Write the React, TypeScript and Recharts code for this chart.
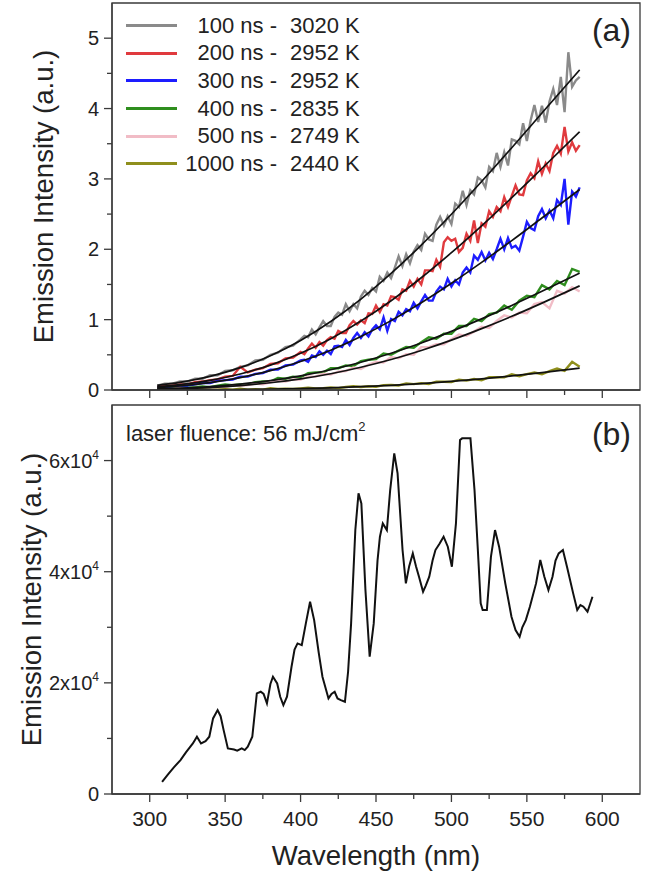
import React from "react";
import { LineChart, Line, XAxis, YAxis, ReferenceArea, Legend } from "recharts";

const FONT = '"Liberation Sans", Arial, Helvetica, sans-serif';
const INK = "#222";
const AXIS = "#3a3a3a";

// ---- panel (a): emission spectra at several delays ----
// fine grid for the three strongest (noisiest) traces
const wavelengthsFine = [
  305, 310, 315, 320, 325, 330, 335, 340, 345, 350,
  355, 360, 365, 370, 375, 380, 385, 390, 395, 400,
  402.5, 405, 407.5, 410, 412.5, 415, 417.5, 420, 422.5, 425,
  427.5, 430, 432.5, 435, 437.5, 440, 442.5, 445, 447.5, 450,
  452.5, 455, 457.5, 460, 462.5, 465, 467.5, 470, 472.5, 475,
  477.5, 480, 482.5, 485, 487.5, 490, 492.5, 495, 497.5, 500,
  502.5, 505, 507.5, 510, 512.5, 515, 517.5, 520, 522.5, 525,
  527.5, 530, 532.5, 535, 537.5, 540, 542.5, 545, 547.5, 550,
  552.5, 555, 557.5, 560, 562.5, 565, 567.5, 570, 572.5, 575,
  577.5, 580, 582.5, 585,
];
const int100 = [
  0.06, 0.09, 0.09, 0.12, 0.12, 0.16, 0.16, 0.21, 0.21, 0.27,
  0.28, 0.33, 0.35, 0.42, 0.43, 0.50, 0.53, 0.61, 0.63, 0.72,
  0.77, 0.75, 0.86, 0.79, 0.89, 0.98, 0.91, 0.91, 1.04, 1.10,
  1.07, 1.22, 1.12, 1.22, 1.16, 1.33, 1.41, 1.35, 1.45, 1.40,
  1.61, 1.55, 1.67, 1.59, 1.74, 1.90, 1.76, 1.93, 1.80, 1.97,
  2.06, 1.99, 2.22, 2.14, 2.12, 2.35, 2.46, 2.34, 2.47, 2.36,
  2.65, 2.60, 2.83, 2.63, 2.84, 2.78, 3.02, 2.98, 2.88, 3.17,
  3.11, 3.37, 3.17, 3.38, 3.19, 3.56, 3.54, 3.49, 3.79, 3.54,
  3.83, 4.05, 3.81, 4.04, 3.80, 4.10, 4.28, 4.05, 4.45, 3.95,
  4.80, 4.31, 4.40, 4.45,
];
const int200 = [
  0.04, 0.06, 0.06, 0.08, 0.08, 0.11, 0.12, 0.14, 0.15, 0.19,
  0.20, 0.33, 0.25, 0.29, 0.31, 0.37, 0.38, 0.45, 0.46, 0.54,
  0.51, 0.59, 0.66, 0.60, 0.68, 0.63, 0.71, 0.75, 0.73, 0.84,
  0.81, 0.81, 0.92, 0.98, 0.93, 0.99, 0.95, 1.09, 1.08, 1.20,
  1.11, 1.22, 1.20, 1.33, 1.32, 1.28, 1.43, 1.41, 1.55, 1.47,
  1.58, 1.50, 1.70, 1.70, 1.69, 1.85, 1.75, 2.10, 2.17, 2.12,
  2.15, 1.96, 2.02, 2.22, 2.12, 2.41, 2.09, 2.37, 2.32, 2.54,
  2.46, 2.60, 2.54, 2.74, 2.60, 2.76, 2.91, 2.78, 2.77, 2.98,
  3.08, 3.01, 3.25, 3.07, 3.22, 3.11, 3.37, 3.47, 3.36, 3.74,
  3.39, 3.52, 3.40, 3.48,
];
const int300 = [
  0.03, 0.04, 0.05, 0.06, 0.06, 0.08, 0.10, 0.10, 0.13, 0.14,
  0.15, 0.19, 0.19, 0.23, 0.24, 0.29, 0.29, 0.35, 0.36, 0.42,
  0.43, 0.40, 0.49, 0.47, 0.55, 0.50, 0.56, 0.51, 0.62, 0.63,
  0.61, 0.71, 0.64, 0.74, 0.81, 0.74, 0.82, 0.76, 0.86, 0.92,
  0.86, 1.03, 0.84, 1.01, 0.98, 1.11, 1.06, 1.15, 1.12, 1.24,
  1.16, 1.26, 1.35, 1.27, 1.27, 1.40, 1.47, 1.43, 1.58, 1.47,
  1.56, 1.50, 1.67, 1.74, 1.67, 1.91, 1.85, 1.96, 1.84, 1.95,
  1.86, 2.00, 2.15, 2.00, 2.16, 2.02, 2.05, 1.98, 2.18, 2.39,
  2.30, 2.27, 2.47, 2.57, 2.44, 2.55, 2.44, 2.70, 2.63, 3.00,
  2.35, 2.82, 2.75, 2.88,
];

// coarse grid for the weaker traces
const wavelengthsCoarse = [
  305, 310, 315, 320, 325, 330, 335, 340, 345, 350,
  355, 360, 365, 370, 375, 380, 385, 390, 395, 400,
  405, 410, 415, 420, 425, 430, 435, 440, 445, 450,
  455, 460, 465, 470, 475, 480, 485, 490, 495, 500,
  505, 510, 515, 520, 525, 530, 535, 540, 545, 550,
  555, 560, 565, 570, 575, 580, 585,
];
const int400 = [
  0.02, 0.01, 0.02, 0.03, 0.03, 0.04, 0.05, 0.04, 0.06, 0.08,
  0.07, 0.08, 0.08, 0.11, 0.12, 0.12, 0.17, 0.16, 0.19, 0.18,
  0.24, 0.25, 0.25, 0.31, 0.31, 0.35, 0.34, 0.41, 0.43, 0.44,
  0.52, 0.50, 0.56, 0.61, 0.60, 0.68, 0.75, 0.73, 0.80, 0.80,
  0.91, 0.91, 1.01, 0.98, 1.08, 1.10, 1.20, 1.14, 1.27, 1.34,
  1.32, 1.49, 1.43, 1.55, 1.49, 1.72, 1.68,
];
const int500 = [
  0.02, 0.01, 0.01, 0.03, 0.02, 0.03, 0.02, 0.04, 0.04, 0.04,
  0.07, 0.06, 0.07, 0.09, 0.08, 0.11, 0.13, 0.12, 0.15, 0.15,
  0.19, 0.19, 0.23, 0.22, 0.26, 0.27, 0.32, 0.30, 0.36, 0.40,
  0.39, 0.47, 0.45, 0.51, 0.50, 0.61, 0.61, 0.65, 0.65, 0.72,
  0.79, 0.77, 0.83, 0.90, 0.88, 0.98, 1.06, 1.03, 1.10, 1.09,
  1.22, 1.25, 1.16, 1.41, 1.37, 1.46, 1.40,
];
const int1000 = [
  0.006, 0.0, 0.009, 0.0, 0.005, 0.002, 0.009, 0.0, 0.006, 0.01,
  0.003, 0.017, 0.006, 0.013, 0.004, 0.024, 0.016, 0.019, 0.014, 0.022,
  0.031, 0.021, 0.027, 0.037, 0.027, 0.043, 0.053, 0.043, 0.053, 0.047,
  0.069, 0.07, 0.065, 0.093, 0.083, 0.098, 0.086, 0.119, 0.117, 0.114,
  0.147, 0.134, 0.155, 0.137, 0.181, 0.183, 0.18, 0.222, 0.196, 0.226,
  0.248, 0.224, 0.268, 0.305, 0.272, 0.40, 0.33,
];

// black fitted curves
const fitWl = [305, 320, 340, 360, 380, 400, 420, 440, 460, 480, 500, 520, 540, 560, 585];
const fit100 = [0.067, 0.109, 0.194, 0.318, 0.486, 0.704, 0.973, 1.292, 1.656, 2.06, 2.498, 2.963, 3.443, 3.936, 4.55];
const fit200 = [0.045, 0.076, 0.137, 0.228, 0.354, 0.521, 0.729, 0.98, 1.269, 1.595, 1.952, 2.334, 2.734, 3.148, 3.67];
const fit300 = [0.035, 0.059, 0.106, 0.177, 0.275, 0.405, 0.566, 0.761, 0.986, 1.239, 1.516, 1.813, 2.123, 2.445, 2.85];
const fit400 = [0.015, 0.026, 0.048, 0.083, 0.133, 0.201, 0.288, 0.395, 0.523, 0.669, 0.833, 1.011, 1.202, 1.402, 1.66];
const fit500 = [0.01, 0.018, 0.035, 0.063, 0.103, 0.158, 0.231, 0.323, 0.433, 0.562, 0.709, 0.872, 1.047, 1.235, 1.48];
const fit1000 = [0.001, 0.002, 0.003, 0.007, 0.012, 0.02, 0.031, 0.047, 0.067, 0.092, 0.123, 0.158, 0.2, 0.246, 0.31];

const delays = ["100 ns", "200 ns", "300 ns", "400 ns", "500 ns", "1000 ns"];
const temps = ["3020 K", "2952 K", "2952 K", "2835 K", "2749 K", "2440 K"];
const colors = ["#8a8a8a", "#e03a3e", "#1d1dff", "#2f8e1e", "#f1bcc6", "#8f8f1c"];
const measured = [int100, int200, int300, int400, int500, int1000];
const grids = [wavelengthsFine, wavelengthsFine, wavelengthsFine, wavelengthsCoarse, wavelengthsCoarse, wavelengthsCoarse];
const fits = [fit100, fit200, fit300, fit400, fit500, fit1000];

const yTicksA = [0, 0.5, 1, 1.5, 2, 2.5, 3, 3.5, 4, 4.5, 5];

// ---- panel (b): spectrum at 56 mJ/cm2 ----
const wavelengthsB = [
  308.2, 312, 316, 320.4, 324, 328.6, 331.3, 334, 337, 339.5,
  342, 345, 347, 349, 351.8, 355.9, 358, 361, 363, 365,
  368, 371, 373.6, 375.5, 377.7, 380, 381.7, 384.5, 386.5, 388.6,
  391, 394, 396, 398, 400.8, 403.5, 406.3, 409, 412, 414.5,
  418.5, 420.5, 422.6, 424.5, 426.7, 429.4, 431.5, 433.5, 436.3, 438.4,
  440.3, 443, 445.8, 448.5, 451, 452.6, 454.5, 457.2, 459.4, 462.1,
  464.3, 467.6, 469.8, 472, 474.4, 476.5, 478.5, 481.2, 483, 485.3,
  487.5, 489.4, 492, 494.8, 497.6, 500.3, 503, 505.7, 507.1, 512.6,
  515.3, 517.5, 519.4, 520.7, 523.5, 526.2, 528.9, 531.6, 535.7, 539.8,
  542.5, 545.2, 547, 549.3, 552, 556.1, 558.9, 561.6, 564.3, 567,
  569, 571.1, 573.9, 576.6, 580.7, 583.4, 585.5, 587.5, 590.2, 593.5,
];
const intensityB = [
  2200, 3500, 4800, 6100, 7500, 9100, 10300, 9100, 9500, 10300,
  13600, 15100, 14000, 11500, 8200, 8000, 7800, 8200, 7900, 8500,
  10300, 18100, 18400, 18000, 16300, 19800, 21100, 19900, 17500, 16000,
  17500, 22900, 26000, 27100, 26800, 30700, 34600, 31300, 25500, 21100,
  17200, 18000, 18400, 17200, 16900, 16600, 22000, 30700, 47500, 54100,
  52300, 36700, 24700, 30700, 42000, 46300, 48700, 47500, 54700, 61300,
  57700, 43900, 37900, 41000, 43300, 41000, 39100, 36400, 37500, 39100,
  42000, 43900, 45000, 46300, 44500, 40900, 48700, 63700, 64000, 64000,
  54700, 44000, 34300, 33100, 33100, 42700, 47500, 44500, 37900, 31900,
  29500, 28300, 30000, 31300, 33700, 37900, 42100, 39100, 36700, 39100,
  42000, 43300, 43900, 40900, 36100, 33100, 34000, 33700, 32800, 35500,
];

const yTicksB = [0, 10000, 20000, 30000, 40000, 50000, 60000];
const xTicks = [275, 300, 325, 350, 375, 400, 425, 450, 475, 500, 525, 550, 575, 600, 625];

const measuredRows = measured.map((arr, k) => grids[k].map((w, i) => ({ w, v: arr[i] })));
const fitRows = fits.map((arr) => fitWl.map((w, i) => ({ w, v: arr[i] })));
const rowsB = wavelengthsB.map((w, i) => ({ w, v: intensityB[i] }));

function XTick(props: any) {
  const { x, y, payload, showLabel } = props;
  if (payload.value === 275 || payload.value === 625) return null;
  const major = payload.value % 50 === 0;
  const len = major ? 8 : 5;
  return (
    <g>
      <line x1={x} y1={y} x2={x} y2={y + len} stroke={AXIS} strokeWidth={1.3} />
      {showLabel && major && (
        <text x={x} y={y + 17} dy="0.71em" textAnchor="middle" fontSize={21} fontFamily={FONT} fill={INK}>
          {payload.value}
        </text>
      )}
    </g>
  );
}

function YTick(props: any) {
  const { x, y, payload, step, sci } = props;
  const v = payload.value;
  const major = Math.abs(v / step - Math.round(v / step)) < 1e-6;
  const len = major ? 8 : 5;
  return (
    <g>
      <line x1={x - len} y1={y} x2={x} y2={y} stroke={AXIS} strokeWidth={1.3} />
      {major && (
        <text x={x - 13} y={y} dy="0.36em" textAnchor="end" fontSize={20} fontFamily={FONT} fill={INK}>
          {sci && v !== 0 ? (
            <>
              <tspan>{v / 10000}x10</tspan>
              <tspan dy="-9" fontSize={12}>4</tspan>
            </>
          ) : (
            v
          )}
        </text>
      )}
    </g>
  );
}

const makeYTitle = (x: number) => (props: any) => {
  const vb = props.viewBox || {};
  const cy = (vb.y || 0) + (vb.height || 0) / 2;
  return (
    <text x={x} y={cy} transform={`rotate(-90 ${x} ${cy})`} textAnchor="middle" fontSize={27.5} fontFamily={FONT} fill={INK}>
      Emission Intensity (a.u.)
    </text>
  );
};

const xTitle = (props: any) => {
  const vb = props.viewBox || {};
  const cx = (vb.x || 0) + (vb.width || 0) / 2;
  return (
    <text x={cx} y={(vb.y || 0) + 71} textAnchor="middle" fontSize={27.5} fontFamily={FONT} fill={INK}>
      Wavelength (nm)
    </text>
  );
};

const tagA = (props: any) => {
  const vb = props.viewBox || {};
  return (
    <text x={vb.x + vb.width - 9} y={vb.y + 38} textAnchor="end" fontSize={32} fontFamily={FONT} fill={INK}>
      (a)
    </text>
  );
};

const tagB = (props: any) => {
  const vb = props.viewBox || {};
  return (
    <g>
      <text x={vb.x + vb.width - 9} y={vb.y + 40} textAnchor="end" fontSize={32} fontFamily={FONT} fill={INK}>
        (b)
      </text>
      <text x={vb.x + 14} y={vb.y + 36} fontSize={22} fontFamily={FONT} fill={INK}>
        <tspan>laser fluence: 56 mJ/cm</tspan>
        <tspan dy="-10" fontSize={13}>2</tspan>
      </text>
    </g>
  );
};

const renderLegend = () => (
  <div style={{ fontFamily: FONT, fontSize: 22, color: INK }}>
    {delays.map((d, k) => (
      <div key={d} style={{ display: "flex", alignItems: "center", height: 27.6 }}>
        <div style={{ width: 51, height: 3, background: colors[k] }} />
        <span style={{ width: 100, textAlign: "right", whiteSpace: "pre" }}>{d} -</span>
        <span style={{ marginLeft: 13, whiteSpace: "pre" }}>{temps[k]}</span>
      </div>
    ))}
  </div>
);

const axisLine = { stroke: AXIS, strokeWidth: 1.3 };

export default function App() {
  return (
    <div style={{ position: "absolute", left: 0, top: 0, width: 645, height: 874, background: "#fff" }}>
      <LineChart width={645} height={402} margin={{ top: 3, right: 5, bottom: 0, left: 0 }}>
        <XAxis
          dataKey="w"
          type="number"
          domain={[275, 625]}
          ticks={xTicks}
          interval={0}
          height={12}
          tickSize={0}
          tickMargin={0}
          tickLine={false}
          axisLine={axisLine}
          tick={<XTick showLabel={false} />}
          allowDataOverflow
        />
        <YAxis
          type="number"
          domain={[0, 5.5]}
          ticks={yTicksA}
          interval={0}
          width={112}
          tickSize={0}
          tickMargin={0}
          tickLine={false}
          axisLine={axisLine}
          tick={<YTick step={1} />}
          label={makeYTitle(53)}
          allowDataOverflow
        />
        <ReferenceArea x1={275} x2={625} y1={0} y2={5.5} fill="none" fillOpacity={0} stroke={AXIS} strokeWidth={1.3} label={tagA} />
        {measured.map((_, k) => (
          <Line
            key={"m" + k}
            data={measuredRows[k]}
            dataKey="v"
            name={`${delays[k]} - ${temps[k]}`}
            stroke={colors[k]}
            strokeWidth={2.4}
            dot={false}
            type="linear"
            isAnimationActive={false}
          />
        ))}
        {fits.map((_, k) => (
          <Line
            key={"f" + k}
            data={fitRows[k]}
            dataKey="v"
            stroke="#111"
            strokeWidth={1.7}
            dot={false}
            type="monotone"
            legendType="none"
            isAnimationActive={false}
          />
        ))}
        <Legend
          content={renderLegend}
          layout="vertical"
          align="center"
          verticalAlign="middle"
          wrapperStyle={{ left: 126, top: 12, width: 270 }}
        />
      </LineChart>

      <LineChart width={645} height={472} data={rowsB} margin={{ top: 3, right: 5, bottom: 0, left: 0 }}>
        <XAxis
          dataKey="w"
          type="number"
          domain={[275, 625]}
          ticks={xTicks}
          interval={0}
          height={80}
          tickSize={0}
          tickMargin={0}
          tickLine={false}
          axisLine={axisLine}
          tick={<XTick showLabel />}
          label={xTitle}
          allowDataOverflow
        />
        <YAxis
          type="number"
          domain={[0, 70000]}
          ticks={yTicksB}
          interval={0}
          width={112}
          tickSize={0}
          tickMargin={0}
          tickLine={false}
          axisLine={axisLine}
          tick={<YTick step={20000} sci />}
          label={makeYTitle(41)}
          allowDataOverflow
        />
        <ReferenceArea x1={275} x2={625} y1={0} y2={70000} fill="none" fillOpacity={0} stroke={AXIS} strokeWidth={1.3} label={tagB} />
        <Line dataKey="v" stroke="#111" strokeWidth={2} dot={false} type="linear" isAnimationActive={false} />
      </LineChart>
    </div>
  );
}
